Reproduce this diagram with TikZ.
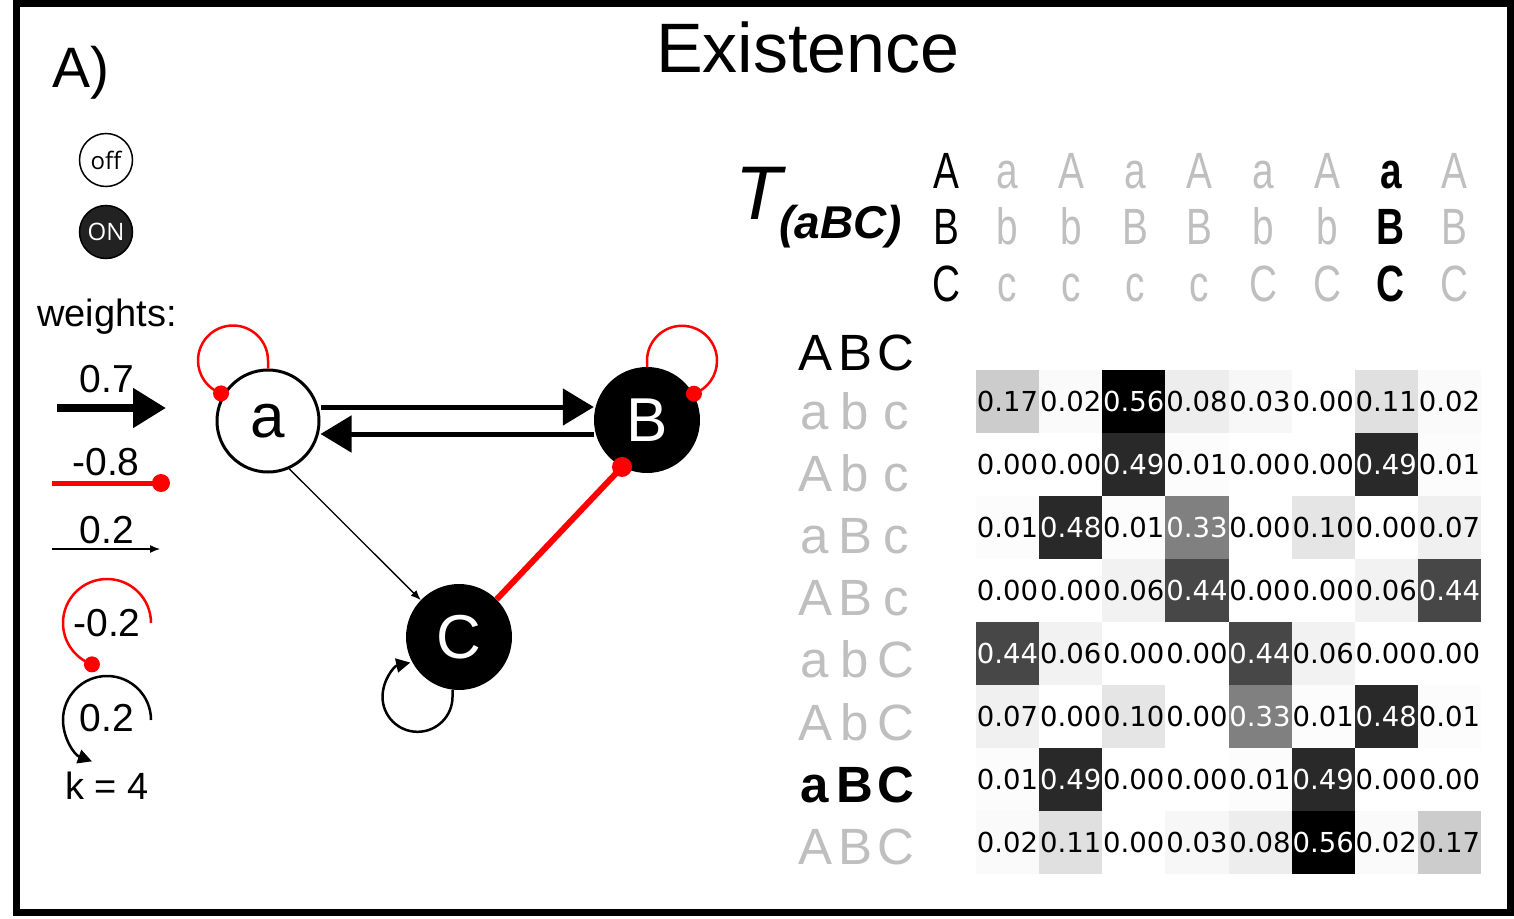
\documentclass[tikz,border=0pt]{standalone}
\usepackage{fontspec}
\setmainfont{Liberation Sans}
\newfontfamily\ofont{Open Sans}
\newfontfamily\dvfont{DejaVu Sans}
\newfontfamily\cfont[FakeStretch=0.76]{Liberation Sans}
\usetikzlibrary{arrows.meta}
\definecolor{tgray}{RGB}{191,191,191}
\definecolor{onfill}{RGB}{34,34,34}
\newcommand{\fsz}[1]{\fontsize{#1}{#1}\selectfont}
\def\setsh#1#2{\expandafter\def\csname sh#1\endcsname{#2}}
\setsh{0.00}{0}\setsh{0.01}{1}\setsh{0.02}{2}\setsh{0.03}{3}
\setsh{0.06}{5}\setsh{0.07}{6}\setsh{0.08}{7}\setsh{0.10}{10}
\setsh{0.11}{12}\setsh{0.17}{20}\setsh{0.33}{50}\setsh{0.44}{72}
\setsh{0.48}{84}\setsh{0.49}{84}\setsh{0.56}{100}
\begin{document}
\begin{tikzpicture}[x=1pt,y=-1pt,
  lbl/.style={inner sep=0, anchor=base},
  hdr/.style={inner sep=0, anchor=base, font=\cfont\fsz{51}},
  rowl/.style={inner sep=0, anchor=base, font=\fsz{51}},
  cell/.style={minimum width=63.125pt, minimum height=63pt, inner sep=0, font=\dvfont\fsz{27.5}},
  stnode/.style={circle, inner sep=0, minimum size=106pt, font=\fsz{62}},
  thickarr/.style={line width=5pt, -{Triangle[length=31pt,width=36pt]}},
  thinarr/.style={line width=1.3pt, -{Latex[length=10pt,width=8pt]}},
  inhib/.style={red, line width=6pt},
  redloop/.style={red, line width=2.5pt},
  blkloop/.style={line width=2.5pt, -{Triangle[length=14pt,width=14pt]}},
  legtxt/.style={inner sep=0, anchor=base, font=\fsz{39}}
]
\fill[white] (0,0) rectangle (1514,918);
\useasboundingbox (0,0) rectangle (1514,918);
\draw[line width=7pt] (16.5,3.5) rectangle (1510.5,912.5);

% titles
\node[lbl, anchor=base west, font=\fsz{57}] (panel) at (52,87) {A)};
\node[lbl, font=\fsz{70}] (title) at (808,72) {Existence};

% legend
\node[circle, draw, line width=1.5pt, minimum size=53pt, inner sep=0, font=\ofont\fsz{24}] (off) at (106,160) {off};
\node[circle, draw, fill=onfill, text=white, line width=1.5pt, minimum size=53pt, inner sep=0, font=\ofont\fsz{24}] (on) at (106,232) {ON};
\node[lbl, font=\fsz{38}] (wts) at (107,326) {weights:};
\node[legtxt] (w1) at (107,392) {0.7};
\coordinate (l1s) at (57,408); \coordinate (l1e) at (166,408);
\draw[line width=8pt, -{Triangle[length=33pt,width=38pt]}] (l1s) -- (l1e);
\node[legtxt] (w2) at (106,475) {-0.8};
\coordinate (l2s) at (52,483); \coordinate (l2e) at (161,483);
\draw[red, line width=5pt] (l2s) -- (l2e);
\fill[red] (l2e) circle (9pt);
\node[legtxt] (w3) at (107,543) {0.2};
\coordinate (l3s) at (52,549); \coordinate (l3e) at (160,549);
\draw[thinarr] (l3s) -- (l3e);
\node[legtxt] (w4) at (107,636) {-0.2};
\coordinate (l4s) at (151,623);
\draw[redloop] (l4s) arc[start angle=0,end angle=250,radius=44pt] coordinate (l4e);
\fill[red] (l4e) circle (8pt);
\node[legtxt] (w5) at (107,731) {0.2};
\coordinate (l5s) at (151,720);
\draw[blkloop] (l5s) arc[start angle=0,end angle=250,radius=44pt];
\node[legtxt, font=\fsz{38}] (kk) at (107,799) {k = 4};

% graph
\node[stnode, draw, line width=3pt, fill=white, minimum size=102pt] (a) at (268,421) {a};
\node[stnode, fill=black, text=white] (B) at (647,420) {B};
\node[stnode, fill=black, text=white] (C) at (459,637) {C};
\draw[thickarr] ([yshift=14pt]a.east) -- ([yshift=13pt]B.west);
\draw[thickarr] ([yshift=-14pt]B.west) -- ([yshift=-13pt]a.east);
\draw[thinarr] (a.-66) -- (C.136);
\draw[inhib] (C.45) -- (B.242);
\fill[red] (B.242) circle (10pt);
\draw[redloop] (a.90) -- ++(0pt,8pt) arc[start angle=0,end angle=250,radius=35pt] coordinate (aL);
\fill[red] (aL) circle (8pt);
\draw[redloop] (B.90) -- ++(0pt,6pt) arc[start angle=180,end angle=-70,radius=35pt] coordinate (BL);
\fill[red] (BL) circle (8pt);
\draw[blkloop] (C.263) -- ++(0pt,-7pt) arc[start angle=0,end angle=-258,radius=35pt];

% T(aBC)
\node[lbl, anchor=base west, font=\itshape\fsz{76}] (T) at (735,219) {T};
\node[lbl, anchor=base west, font=\bfseries\itshape\fsz{46}] (Tsub) at (779,238) {(aBC)};

% header columns
\node[hdr] (h0-1) at (946,188) {A};
\node[hdr] (h0-2) at (946,244) {B};
\node[hdr] (h0-3) at (946,301) {C};
\foreach \p/\q/\r [count=\k] in {a/b/c, A/b/c, a/B/c, A/B/c, a/b/C, A/b/C, a/B/C, A/B/C} {
  \ifnum\k=7 \tikzset{cur/.style={text=black, font=\cfont\bfseries\fsz{51}}}\else\tikzset{cur/.style={text=tgray}}\fi
  \pgfmathsetmacro\cx{1007.5+63.9*(\k-1)}
  \node[hdr,cur] (h\k-1) at (\cx,188) {\p};
  \node[hdr,cur] (h\k-2) at (\cx,244) {\q};
  \node[hdr,cur] (h\k-3) at (\cx,301) {\r};
}

% row labels
\node[rowl] (r0-1) at (815,370) {A};
\node[rowl] (r0-2) at (855,370) {B};
\node[rowl] (r0-3) at (896,370) {C};
\foreach \p/\q/\r [count=\k] in {a/b/c, A/b/c, a/B/c, A/B/c, a/b/C, A/b/C, a/B/C, A/B/C} {
  \ifnum\k=7 \tikzset{cur/.style={text=black, font=\bfseries\fsz{51}}}\else\tikzset{cur/.style={text=tgray}}\fi
  \pgfmathsetmacro\cy{429+62.2*(\k-1)}
  \node[rowl,cur] (r\k-1) at (815,\cy) {\p};
  \node[rowl,cur] (r\k-2) at (855,\cy) {\q};
  \node[rowl,cur] (r\k-3) at (896,\cy) {\r};
}

% matrix
\foreach \row [count=\i] in {
 {0.17,0.02,0.56,0.08,0.03,0.00,0.11,0.02},
 {0.00,0.00,0.49,0.01,0.00,0.00,0.49,0.01},
 {0.01,0.48,0.01,0.33,0.00,0.10,0.00,0.07},
 {0.00,0.00,0.06,0.44,0.00,0.00,0.06,0.44},
 {0.44,0.06,0.00,0.00,0.44,0.06,0.00,0.00},
 {0.07,0.00,0.10,0.00,0.33,0.01,0.48,0.01},
 {0.01,0.49,0.00,0.00,0.01,0.49,0.00,0.00},
 {0.02,0.11,0.00,0.03,0.08,0.56,0.02,0.17}} {
  \foreach \v [count=\j] in \row {
    \edef\pp{\csname sh\v\endcsname}
    \ifnum\pp>40 \def\tc{white}\else\def\tc{black}\fi
    \node[cell, fill=black!\pp, text=\tc] (m\i-\j) at ({976+63.125*(\j-0.5)},{370+63*(\i-0.5)}) {\v};
  }
}
\end{tikzpicture}
\end{document}
